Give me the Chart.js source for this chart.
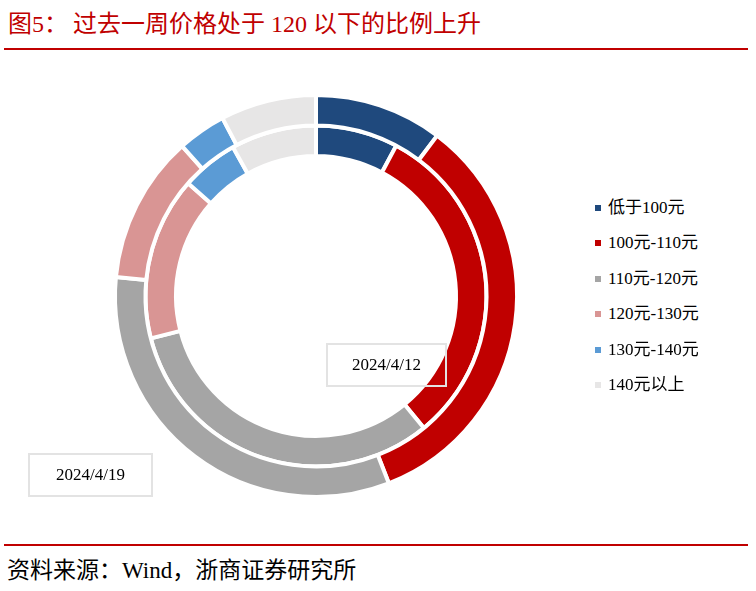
<!DOCTYPE html>
<html>
<head>
<meta charset="utf-8">
<script src="https://cdn.jsdelivr.net/npm/chart.js@4.4.0/dist/chart.umd.min.js"></script>
<style>
  html, body { margin: 0; padding: 0; background: #fff; }
  body { width: 756px; height: 591px; position: relative; overflow: hidden;
         font-family: "Liberation Serif", "Noto Sans CJK SC", serif; }
  .abs { position: absolute; white-space: nowrap; }
  #title1, #title2 { color: #C00000; font-size: 24px; line-height: 24px; top: 12px; }
  .rule { position: absolute; left: 4px; width: 744px; height: 2px; background: #C00000; }
  #source { left: 7px; top: 559px; font-size: 23px; line-height: 23px; color: #000; }
  #chartWrap { position: absolute; left: 96px; top: 76px; width: 440px; height: 440px; }
  .datebox { position: absolute; border: 2px solid #E3E3E3; box-sizing: border-box;
             font-size: 17px; color: #000; display: flex; align-items: center; justify-content: center; }
  #legend { position: absolute; left: 595px; top: 199px; width: 160px; }
  .li { position: relative; height: 35.4px; font-size: 17px; line-height: 18px; white-space: nowrap; }
  .li .sw { position: absolute; left: 0; top: 6px; width: 6px; height: 6px; }
  .li .tx { position: absolute; left: 13px; top: 0; white-space: nowrap; }
</style>
</head>
<body>
<div id="title1" class="abs" style="left:8px;">图5：</div>
<div id="title2" class="abs" style="left:73px;">过去一周价格处于 120 以下的比例上升</div>
<div class="rule" style="top:48px;"></div>
<div id="chartWrap"><canvas id="c" width="440" height="440"></canvas></div>
<div class="datebox" style="left:326px; top:343px; width:121px; height:44px;">2024/4/12</div>
<div class="datebox" style="left:28px; top:453px; width:125px; height:44px;">2024/4/19</div>
<div id="legend"></div>
<div class="rule" style="top:544px;"></div>
<div id="source" class="abs">资料来源：Wind，浙商证券研究所</div>
<script>
// Categories (price buckets)
const categories = ["低于100元", "100元-110元", "110元-120元", "120元-130元", "130元-140元", "140元以上"];
// Series labels (dates)
const seriesLabels = ["2024/4/19", "2024/4/12"];
// Shares (%) — outer ring: 2024/4/19
const values0419 = [10.3, 33.8, 32.4, 11.9, 3.9, 7.7];
// Shares (%) — inner ring: 2024/4/12
const values0412 = [7.8, 31.3, 31.9, 15.5, 5.4, 8.1];
// Bucket colours
const colors = ["#1F497D", "#C00000", "#A5A5A5", "#D99594", "#5B9BD5", "#E7E6E6"];

// HTML legend built from the arrays
const lg = document.getElementById('legend');
categories.forEach((c, i) => {
  const d = document.createElement('div');
  d.className = 'li';
  d.innerHTML = '<span class="sw" style="background:' + colors[i] + '"></span><span class="tx">' + c + '</span>';
  lg.appendChild(d);
});

new Chart(document.getElementById('c'), {
  type: 'doughnut',
  data: {
    labels: categories,
    datasets: [
      { label: seriesLabels[0], data: values0419, backgroundColor: colors, borderColor: '#ffffff', borderWidth: 4, hoverOffset: 0 },
      { label: seriesLabels[1], data: values0412, backgroundColor: colors, borderColor: '#ffffff', borderWidth: 4, hoverOffset: 0 }
    ]
  },
  options: {
    responsive: false,
    animation: false,
    events: [],
    radius: 201,
    cutout: '69.65%',
    layout: { padding: 0 },
    plugins: { legend: { display: false }, tooltip: { enabled: false }, title: { display: false } }
  }
});
</script>
</body>
</html>
